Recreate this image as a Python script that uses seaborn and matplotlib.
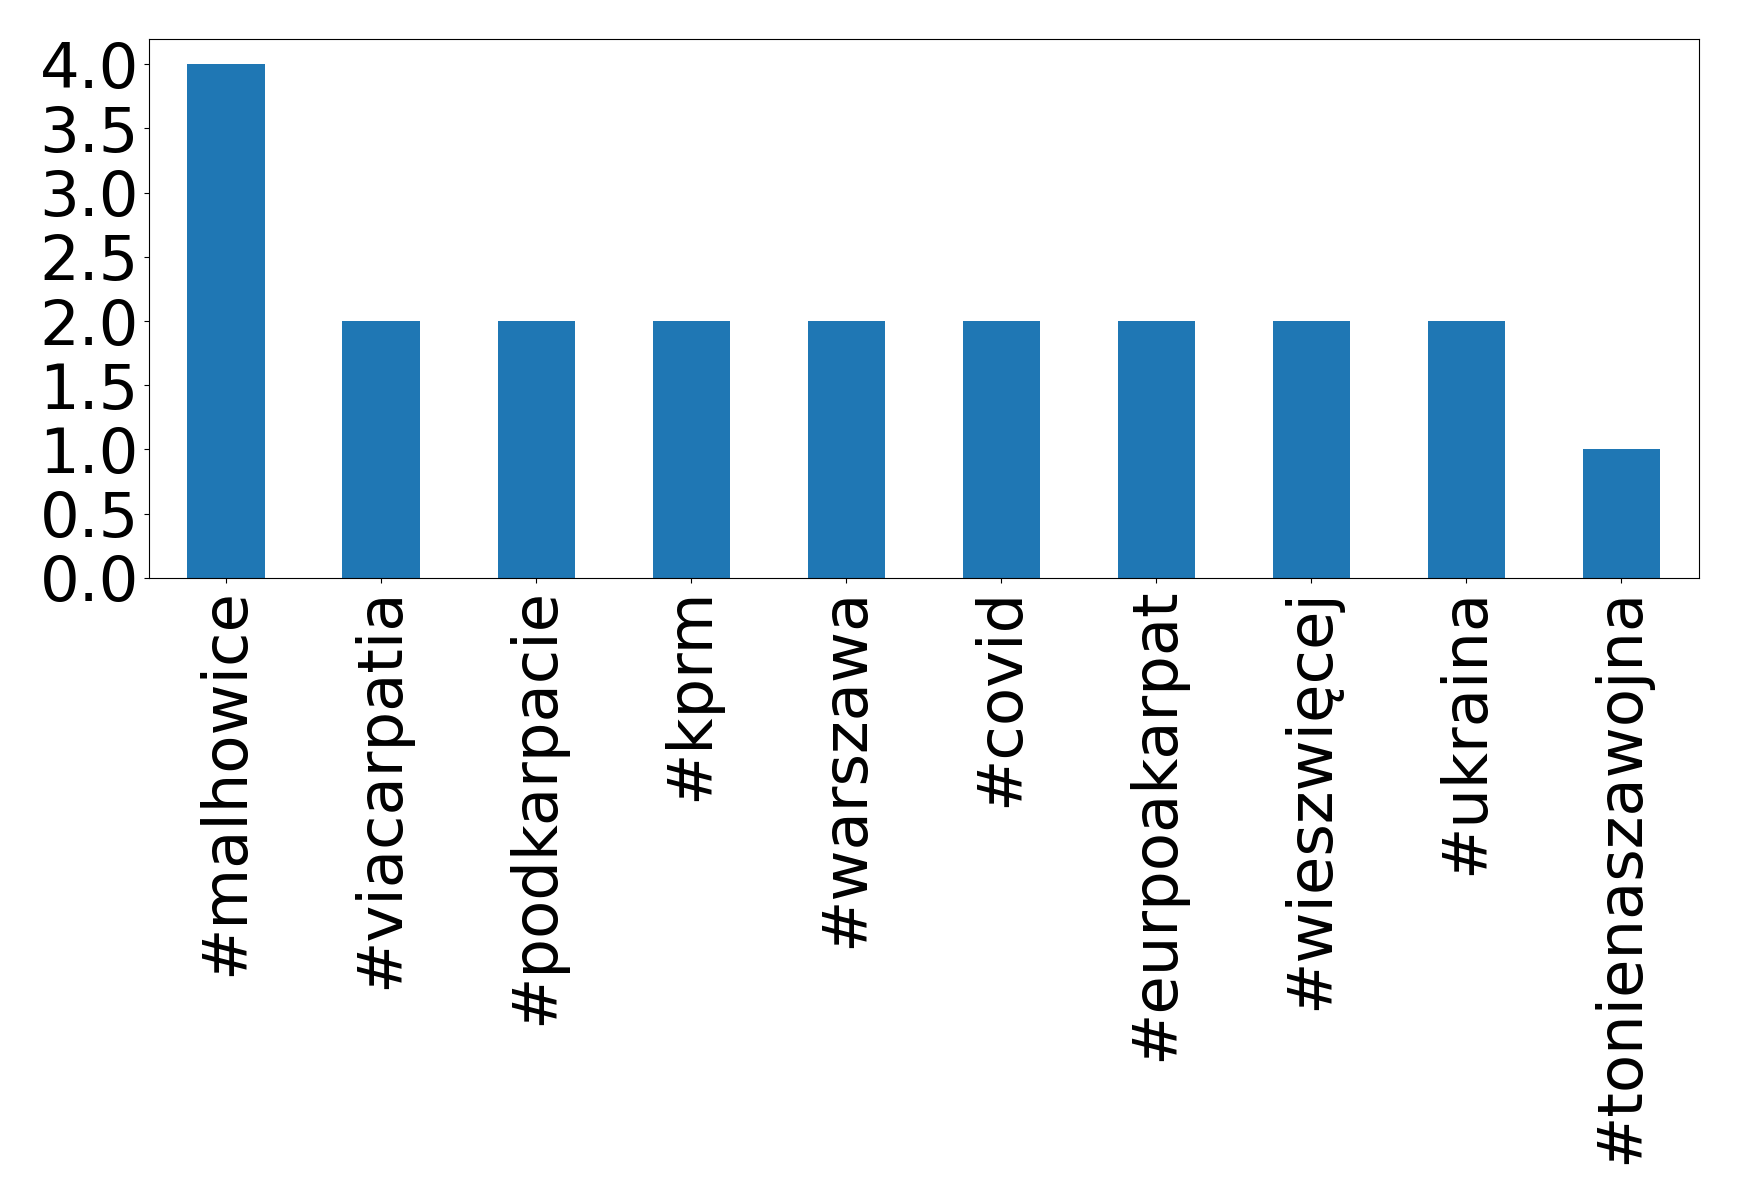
import matplotlib
matplotlib.use("Agg")
import matplotlib.pyplot as plt
import seaborn as sns

# Datos: hashtags mas frecuentes
hashtags = ["#malhowice", "#viacarpatia", "#podkarpacie", "#kprm", "#warszawa",
            "#covid", "#eurpoakarpat", "#wieszwięcej", "#ukraina",
            "#tonienaszawojna"]
conteos = [4, 2, 2, 2, 2, 2, 2, 2, 2, 1]

fig = plt.figure(figsize=(17.39, 12.04), dpi=100)
ax = fig.add_axes([0.0855, 0.520, 0.8915, 0.448])

sns.barplot(x=hashtags, y=conteos, color="#1f77b4", saturation=1,
            width=0.5, ax=ax)

ax.set_xlim(-0.5, len(hashtags) - 0.5)
ax.set_ylim(0, 4.2)
ax.set_yticks([0, 0.5, 1, 1.5, 2, 2.5, 3, 3.5, 4])
ax.set_yticklabels([f"{v:.1f}" for v in ax.get_yticks()])
ax.tick_params(axis="both", labelsize=45)
ax.tick_params(axis="x", labelrotation=90)
ax.set_xlabel("")
ax.set_ylabel("")

fig.savefig("out.png", dpi=100)
